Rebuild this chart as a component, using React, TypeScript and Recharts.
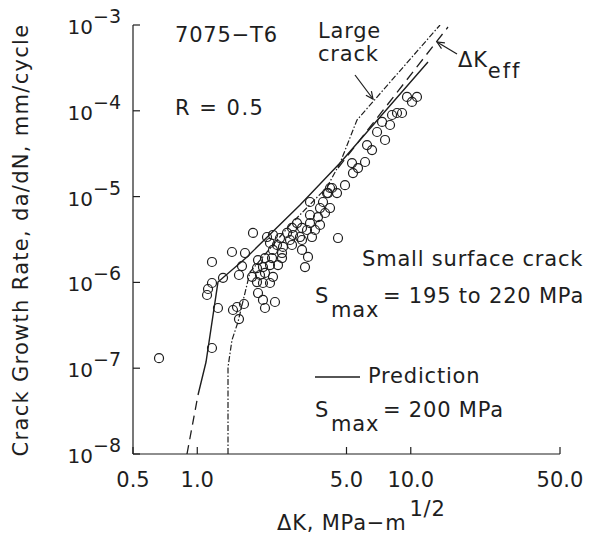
import React from 'react';
import { ComposedChart, XAxis, YAxis, Line, Scatter } from 'recharts';

const INK = '#1e1e1e';
const FONT = '"DejaVu Sans", sans-serif';

// Axis ticks
const xTicks = [0.5, 1, 5, 10, 50];
const xTickLabels = ['0.5', '1.0', '5.0', '10.0', '50.0'];
const yTicks = [1e-8, 1e-7, 1e-6, 1e-5, 1e-4, 1e-3];
const yTickExponents = ['−8', '−7', '−6', '−5', '−4', '−3'];

// Small surface crack data (S_max = 195 to 220 MPa)
const smallCrackDK = [
  0.662, 1.172, 1.25, 1.47, 1.568, 1.655, 1.535, 1.925, 2.031, 2.076,
  2.312, 1.123, 1.111, 1.172, 1.32, 1.172, 1.454, 1.673, 1.62, 1.568,
  4.186, 4.513, 4.096, 3.373, 3.881, 3.757, 4.186, 3.373, 3.677, 3.966,
  4.562, 2.932, 3.373, 3.757, 2.778, 3.094, 3.266, 3.56, 1.824, 2.632,
  2.808, 3.028, 3.446, 2.121, 2.263, 2.441, 2.719, 3.094, 2.191, 2.363,
  2.521, 2.778, 3.094, 2.263, 2.494, 3.301, 1.925, 2.076, 2.239, 2.494,
  1.904, 2.031, 2.191, 2.389, 3.196, 1.805, 1.967, 2.076, 2.263, 1.904,
  2.031, 2.191,
  9.602, 10.69, 10.13, 8.62, 9.099, 8.171, 7.996, 7.337, 6.952, 7.577,
  6.24, 6.585, 6.106, 5.307, 5.66, 5.362, 4.92, 4.277, 4.053,
];
const smallCrackRate = [
  1.31e-7, 1.72e-7, 5.03e-7, 4.77e-7, 3.74e-7, 5.6e-7, 5.17e-7, 7.52e-7, 6.24e-7, 5.03e-7,
  5.91e-7, 8.38e-7, 7.13e-7, 9.84e-7, 1.13e-6, 1.73e-6, 2.26e-6, 2.2e-6, 1.55e-6, 1.22e-6,
  1.26e-5, 1.1e-5, 1.1e-5, 8.65e-6, 8.65e-6, 7.36e-6, 7.36e-6, 6.1e-6, 5.78e-6, 6.44e-6,
  3.29e-6, 4.92e-6, 4.92e-6, 4.67e-6, 4.31e-6, 4.31e-6, 4.08e-6, 4.08e-6, 3.77e-6, 3.77e-6,
  3.57e-6, 3.38e-6, 3.38e-6, 3.38e-6, 3.57e-6, 3.29e-6, 3.12e-6, 3.12e-6, 2.88e-6, 2.73e-6,
  2.59e-6, 2.73e-6, 2.39e-6, 2.39e-6, 2.2e-6, 1.98e-6, 1.82e-6, 1.92e-6, 1.92e-6, 1.92e-6,
  1.47e-6, 1.51e-6, 1.59e-6, 1.59e-6, 1.51e-6, 1.16e-6, 1.22e-6, 1.29e-6, 1.16e-6, 1.01e-6,
  9.84e-7, 9.84e-7,
  1.45e-4, 1.45e-4, 1.27e-4, 9.43e-5, 9.43e-5, 8.93e-5, 6.83e-5, 7.41e-5, 5.66e-5, 4.57e-5,
  3.99e-5, 3.49e-5, 2.53e-5, 2.46e-5, 2.15e-5, 1.88e-5, 1.36e-5, 1.26e-5, 1.1e-5,
];

// Prediction (S_max = 200 MPa), solid part and dashed extrapolation
const predictionDK = [1.008, 1.099, 1.25, 1.71, 3.028, 4.662, 12.04];
const predictionRate = [4.87e-8, 1.18e-7, 1.01e-6, 1.98e-6, 7.98e-6, 2.46e-5, 3.7e-4];
const predictionExtDK = [0.895, 1.008];
const predictionExtRate = [1e-8, 4.87e-8];

// Large crack curve (dash-dot)
const largeCrackDK = [1.393, 1.393, 1.454, 1.551, 1.766, 2.719, 4.053, 4.662, 5.599, 13.71];
const largeCrackRate = [1e-8, 1.03e-7, 2.13e-7, 3.45e-7, 1.32e-6, 4.67e-6, 1.29e-5, 2.46e-5, 7.81e-5, 1e-3];

// Delta K_eff curve (dashed)
const effDK = [4.562, 14.94];
const effRate = [2.15e-5, 9.48e-4];

const zip = (xs: number[], ys: number[]) => xs.map((x, i) => ({ x, y: ys[i] }));
const smallCrackData = zip(smallCrackDK, smallCrackRate);
const predictionData = zip(predictionDK, predictionRate);
const predictionExtData = zip(predictionExtDK, predictionExtRate);
const largeCrackData = zip(largeCrackDK, largeCrackRate);
const effData = zip(effDK, effRate);

const XTick = (props: any) => {
  const { x, y, payload } = props;
  const i = xTicks.findIndex((t) => Math.abs(t - payload.value) < 1e-9);
  return (
    <g>
      <line x1={x} y1={y} x2={x} y2={y - 7} stroke={INK} strokeWidth={1.2} />
      <text x={x} y={y + 33} textAnchor="middle" fontFamily={FONT} fontSize={21} fill={INK}>
        {xTickLabels[i]}
      </text>
    </g>
  );
};

const YTick = (props: any) => {
  const { x, y, payload } = props;
  const i = Math.round(Math.log10(payload.value)) + 8;
  return (
    <g>
      <line x1={x} y1={y} x2={x + 7} y2={y} stroke={INK} strokeWidth={1.2} />
      <text x={x - 12} y={y + 9} textAnchor="end" fontFamily={FONT} fontSize={20} fill={INK}>
        10
        <tspan dy={-11} fontSize={19}>{yTickExponents[i]}</tspan>
      </text>
    </g>
  );
};

const Circle = (props: any) => {
  const { cx, cy } = props;
  if (cx == null || cy == null) return null;
  return <circle cx={cx} cy={cy} r={4.5} fill="none" stroke={INK} strokeWidth={1.2} />;
};

const txt = { fontFamily: FONT, fontSize: 21, fill: INK, letterSpacing: 0.8 } as const;

export default function App() {
  return (
    <div style={{ position: 'absolute', left: 0, top: 0, width: 602, height: 537, background: '#fff' }}>
      <ComposedChart width={602} height={537} margin={{ top: 25, right: 42, bottom: 0, left: 0 }}>
        <XAxis
          dataKey="x"
          type="number"
          scale="log"
          domain={[0.5, 50]}
          ticks={xTicks}
          allowDataOverflow
          interval={0}
          height={83}
          tickLine={false}
          tickSize={0}
          tickMargin={0}
          tick={XTick}
          axisLine={{ stroke: INK, strokeWidth: 1.2 }}
        />
        <YAxis
          dataKey="y"
          type="number"
          scale="log"
          domain={[1e-8, 1e-3]}
          ticks={yTicks}
          allowDataOverflow
          interval={0}
          width={133}
          tickLine={false}
          tickSize={0}
          tickMargin={0}
          tick={YTick}
          axisLine={{ stroke: INK, strokeWidth: 1.2 }}
        />
        <Line data={predictionExtData} dataKey="y" type="linear" stroke={INK} strokeWidth={1.3}
          strokeDasharray="9 6" dot={false} isAnimationActive={false} />
        <Line data={predictionData} dataKey="y" type="linear" stroke={INK} strokeWidth={1.4}
          dot={false} isAnimationActive={false} />
        <Line data={largeCrackData} dataKey="y" type="linear" stroke={INK} strokeWidth={1.2}
          strokeDasharray="6 2 1.5 2" dot={false} isAnimationActive={false} />
        <Line data={effData} dataKey="y" type="linear" stroke={INK} strokeWidth={1.3}
          strokeDasharray="10 6" dot={false} isAnimationActive={false} />
        <Scatter data={smallCrackData} dataKey="y" shape={Circle} isAnimationActive={false} />
      </ComposedChart>
      <svg width={602} height={537} style={{ position: 'absolute', left: 0, top: 0, pointerEvents: 'none' }}>
        <text {...txt} x={175} y={42}>7075−T6</text>
        <text {...txt} x={175} y={115} letterSpacing={1.5}>R = 0.5</text>
        <text {...txt} x={318} y={38}>Large</text>
        <text {...txt} x={318} y={61}>crack</text>
        <line x1={355} y1={75} x2={373} y2={99} stroke={INK} strokeWidth={1.2} />
        <polyline points="371.4,91.2 373,99 365.9,95.2" fill="none" stroke={INK} strokeWidth={1.2} />
        <text {...txt} x={458} y={67}>ΔK<tspan dy={11} letterSpacing={2}>eff</tspan></text>
        <line x1={457} y1={54} x2={437} y2={42} stroke={INK} strokeWidth={1.2} />
        <polyline points="441.5,48.6 437,42 444.9,42.8" fill="none" stroke={INK} strokeWidth={1.2} />
        <text {...txt} x={362} y={266}>Small surface crack</text>
        <text {...txt} x={315} y={303}>S<tspan x={331} dy={14}>max</tspan><tspan x={383} dy={-14}>= 195 to 220 MPa</tspan></text>
        <line x1={315} y1={377} x2={360} y2={377} stroke={INK} strokeWidth={1.3} />
        <text {...txt} x={368} y={383}>Prediction</text>
        <text {...txt} x={315} y={417}>S<tspan x={331} dy={14}>max</tspan><tspan x={383} dy={-14}>= 200 MPa</tspan></text>
        <text {...txt} x={277} y={530}>ΔK, MPa−m<tspan dy={-14} dx={3}>1/2</tspan></text>
        <text {...txt} letterSpacing={1.3} transform="translate(28,240) rotate(-90)" textAnchor="middle" x={0} y={0}>
          Crack Growth Rate, da/dN, mm/cycle
        </text>
      </svg>
    </div>
  );
}
